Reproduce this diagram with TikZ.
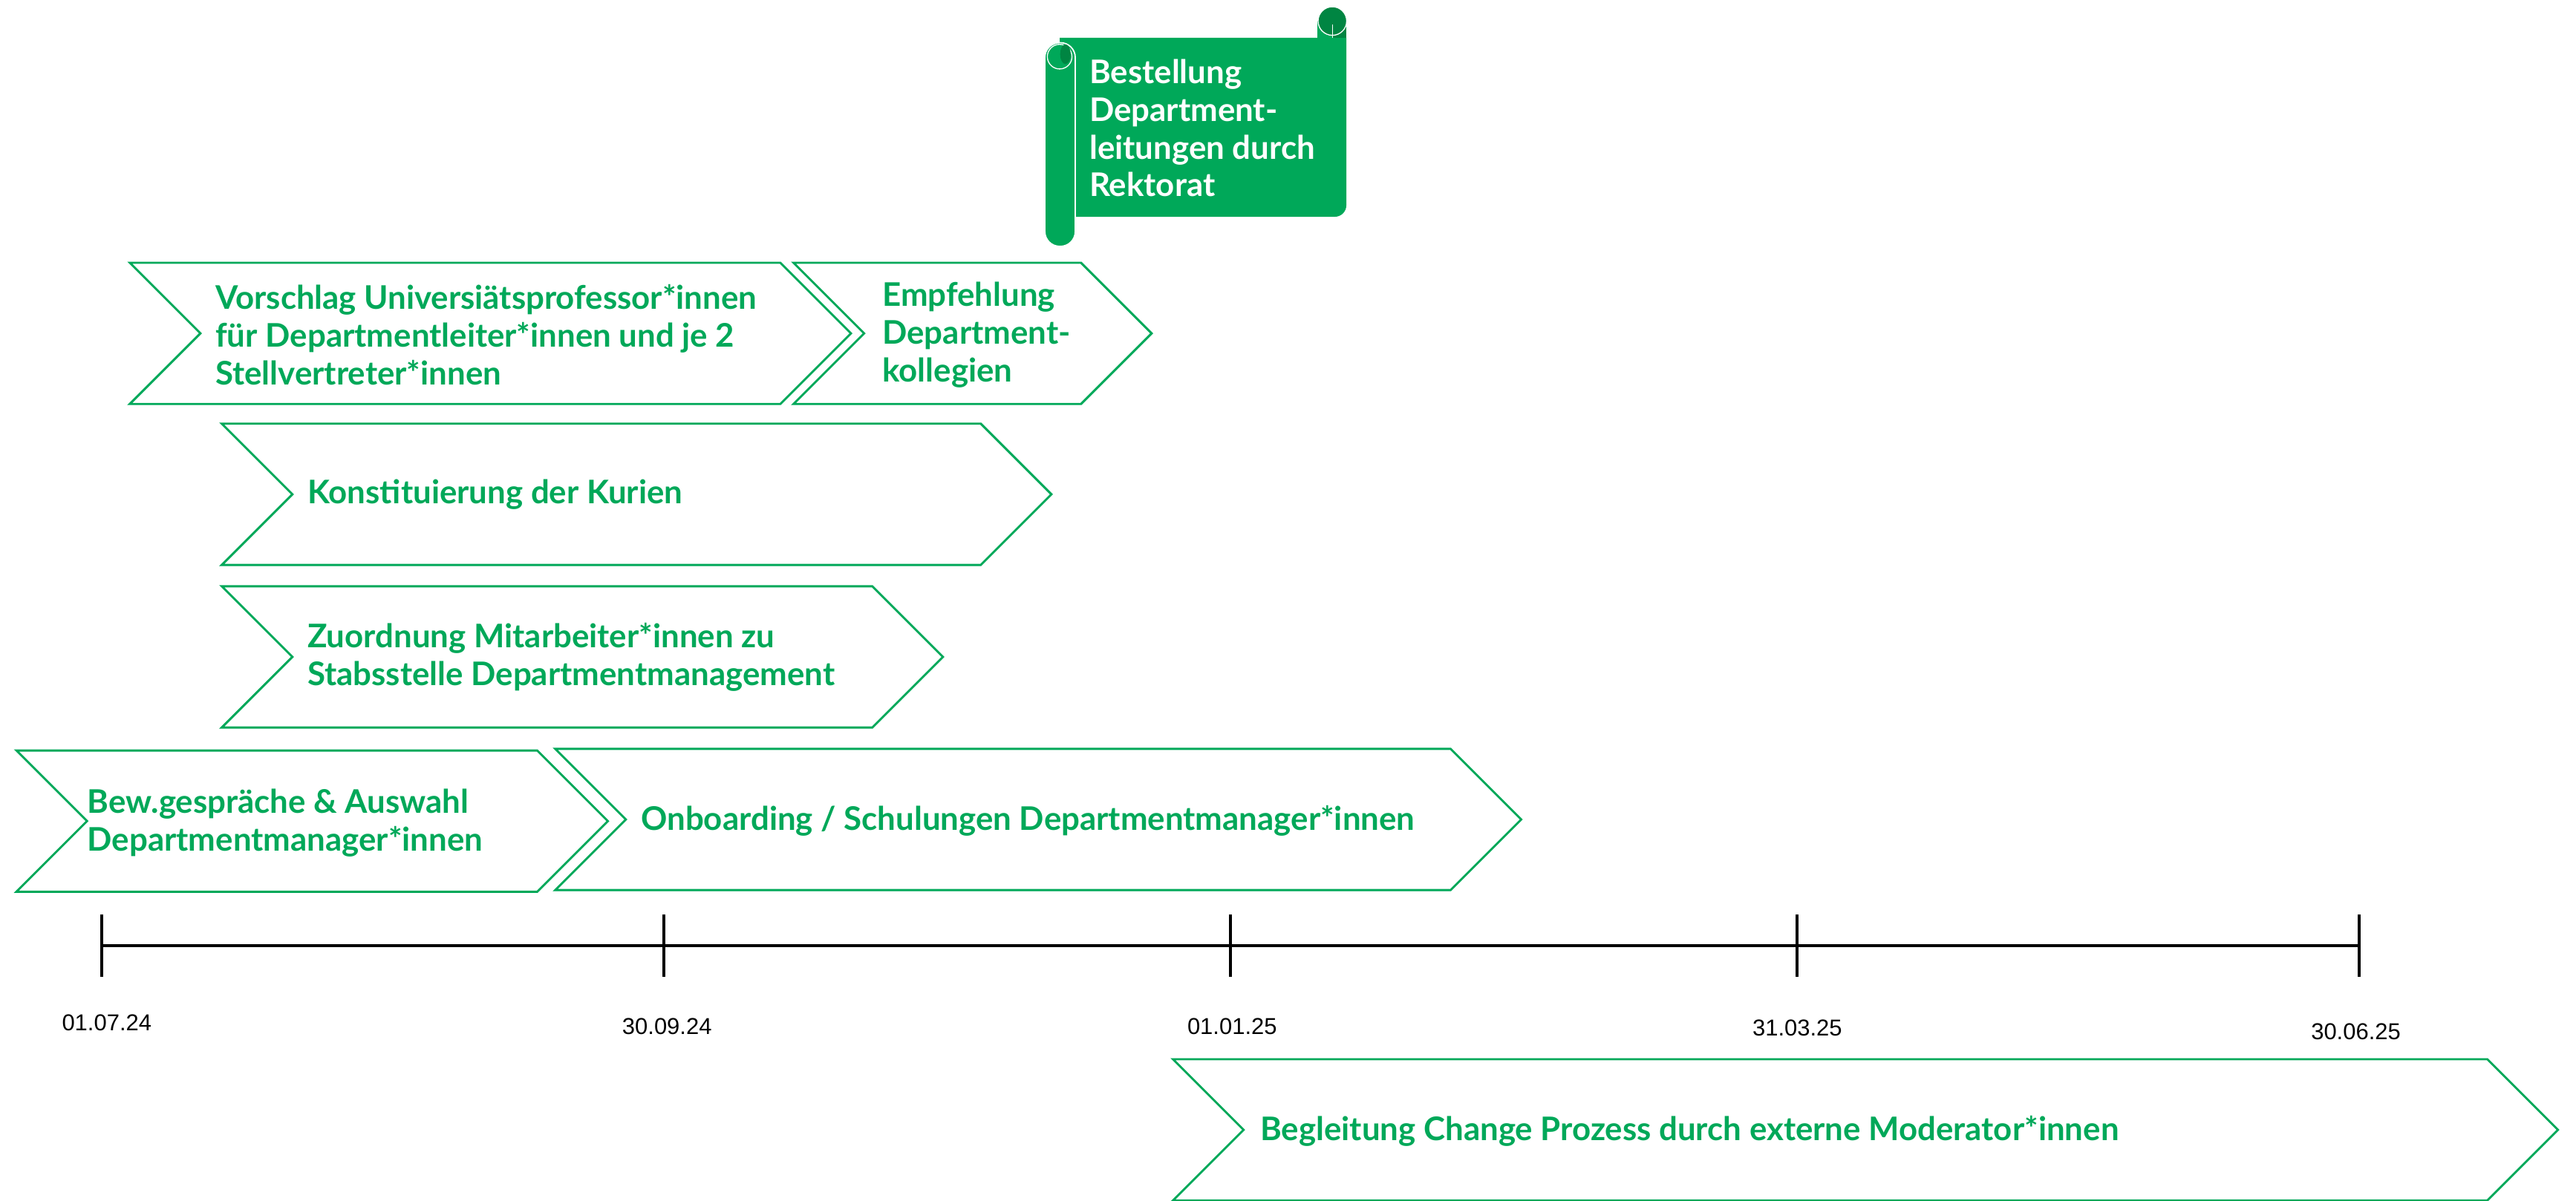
\documentclass[tikz,border=0pt]{standalone}
\usepackage{fontspec}
\setmainfont{Lato}
\newfontfamily\datefont{Liberation Sans}
\usetikzlibrary{positioning}
\definecolor{unigreen}{RGB}{0,168,89}
\definecolor{unigreendark}{RGB}{0,133,66}

\begin{document}
\begin{tikzpicture}[x=1pt, y=-1pt,
    chev/.style={draw=unigreen, line width=1.3pt, line join=miter},
    steptxt/.style={text=unigreen, font=\bfseries\fontsize{19.8}{23}\selectfont, align=left, anchor=west, inner sep=0pt},
    scrolltxt/.style={text=white, font=\bfseries\fontsize{19.8}{23}\selectfont, align=left, anchor=west, inner sep=0pt},
    tick/.style={line width=1.8pt},
    datelbl/.style={font=\datefont\fontsize{14}{16}\selectfont, inner sep=0pt}]
  \useasboundingbox (0,0) rectangle (1568,731);

  % scroll
  \fill[unigreen] (645,23) -- (819.5,23) [rounded corners=7pt] -- (819.5,132) -- (700,132) [sharp corners] -- (645,132) -- cycle;
  \fill[unigreen] (802,12.8) rectangle (819.5,23);
  \fill[unigreendark] (811,12.8) rectangle (819.5,23);
  \filldraw[fill=unigreendark, draw=white, line width=0.6pt] (811,12.8) circle (8.7);
  \draw[white, line width=0.6pt] (811,15) -- (811,23);
  \filldraw[fill=unigreen, draw=white, line width=0.8pt, rounded corners=9pt] (636,26) rectangle (654.5,150);
  \draw[white, line width=0.6pt] (645,34.5) circle (7.5);
  \fill[unigreendark] (648.5,33) ellipse (3.2 and 6);
  \node[scrolltxt] (bestellung) at (663,78) {Bestellung\\Department-\\leitungen durch\\Rektorat};

  % chevrons
  \foreach \l/\t/\r in {79/160/475, 483/160/658, 135/258/597, 135/357/531, 10/457/327, 338/456/883, 714/645/1514}
    \draw[chev] (\l,\t) -- (\r,\t) -- (\r+43,\t+43) -- (\r,\t+86) -- (\l,\t+86) -- (\l+43,\t+43) -- cycle;

  \node[steptxt] (vorschlag) at (131,204) {Vorschlag Universiätsprofessor*innen\\für Departmentleiter*innen und je 2\\Stellvertreter*innen};
  \node[steptxt] (empfehlung) at (537,204) {Empfehlung\\Department-\\kollegien};
  \node[steptxt] (kurien) at (187,301) {Konstituierung der Kurien};
  \node[steptxt] (zuordnung) at (187,400) {Zuordnung Mitarbeiter*innen zu\\Stabsstelle Departmentmanagement};
  \node[steptxt] (auswahl) at (53,501) {Bew.gespräche \& Auswahl\\Departmentmanager*innen};
  \node[steptxt] (onboarding) at (390,500) {Onboarding / Schulungen Departmentmanager*innen};
  \node[steptxt] (begleitung) at (767,689) {Begleitung Change Prozess durch externe Moderator*innen};

  % timeline
  \foreach \n/\x in {1/62, 2/404, 3/749, 4/1094, 5/1436}
    \coordinate (t\n) at (\x,576);
  \draw[tick] (t1) -- (t5);
  \foreach \n in {1,...,5}
    \draw[tick] (t\n) ++(0,-19) -- ++(0,38);

  \node[datelbl] (d1) at (65,623) {01.07.24};
  \node[datelbl] (d2) at (406,625) {30.09.24};
  \node[datelbl] (d3) at (750,625) {01.01.25};
  \node[datelbl] (d4) at (1094,626) {31.03.25};
  \node[datelbl] (d5) at (1434,628) {30.06.25};
\end{tikzpicture}
\end{document}
